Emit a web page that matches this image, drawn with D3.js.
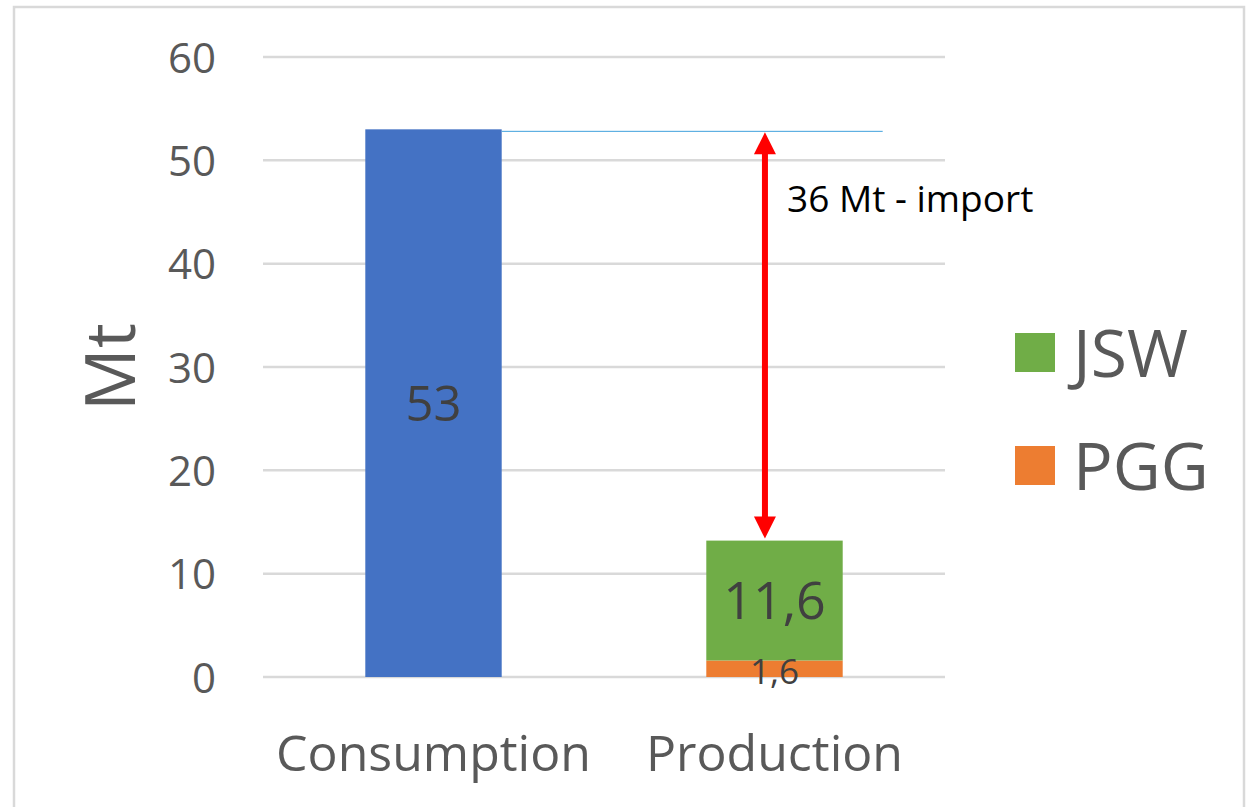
<!DOCTYPE html>
<html>
<head>
<meta charset="utf-8">
<script src="https://cdn.jsdelivr.net/npm/d3@7"></script>
<style>
  html, body { margin: 0; padding: 0; background: #fff; }
  svg { display: block; }
</style>
</head>
<body>
<svg id="chart" width="1252" height="807"></svg>
<script>
const categories = ["Consumption", "Production"];
const seriesNames = ["Consumption", "PGG", "JSW"];
const consumptionValues = [53, 0];
const pggValues = [0, 1.6];
const jswValues = [0, 11.6];
const yTicks = [0, 10, 20, 30, 40, 50, 60];
const legendNames = ["JSW", "PGG"];
const annotationText = "36 Mt - import";
const axisTitle = "Mt";

const colors = { Consumption: "#4472c4", PGG: "#ed7d31", JSW: "#70ad47" };
const textColor = "#595959";

const svg = d3.select("#chart");

// outer border
svg.append("rect").attr("x", 14).attr("y", 7).attr("width", 1230).attr("height", 820)
  .attr("fill", "none").attr("stroke", "#d9d9d9").attr("stroke-width", 2.5);

const x = d3.scaleBand().domain(categories).range([263, 945]).paddingInner(0.6).paddingOuter(0.3);
const y = d3.scaleLinear().domain([0, 60]).range([677, 57]);

// gridlines
svg.append("g").selectAll("line").data(yTicks).join("line")
  .attr("x1", 263).attr("x2", 945)
  .attr("y1", d => y(d)).attr("y2", d => y(d))
  .attr("stroke", "#d9d9d9").attr("stroke-width", 2.5);

// y axis labels
const yAxis = d3.axisLeft(y).tickValues(yTicks).tickSize(0).tickPadding(0).tickFormat(d3.format("d"));
const gy = svg.append("g").attr("transform", "translate(216,0)").call(yAxis);
gy.select(".domain").remove();
gy.selectAll("text").attr("font-family", "Open Sans").attr("font-size", 42).attr("fill", textColor).attr("dy", "0.36em");

// x axis labels
const xAxis = d3.axisBottom(x).tickSize(0).tickPadding(0);
const gx = svg.append("g").attr("transform", "translate(0,771)").call(xAxis);
gx.select(".domain").remove();
gx.selectAll("text").attr("font-family", "Open Sans").attr("font-size", 50).attr("fill", textColor).attr("dy", 0);

// stacked data
const rows = categories.map((c, i) => ({ cat: c, Consumption: consumptionValues[i], PGG: pggValues[i], JSW: jswValues[i] }));
const stack = d3.stack().keys(seriesNames)(rows);

svg.append("g").selectAll("g").data(stack).join("g")
  .attr("fill", s => colors[s.key])
  .selectAll("rect").data(s => s.filter(d => d[1] - d[0] > 0)).join("rect")
  .attr("x", d => x(d.data.cat))
  .attr("width", x.bandwidth())
  .attr("y", d => y(d[1]))
  .attr("height", d => y(d[0]) - y(d[1]));

const fmt = v => String(v).replace(".", ",");

// data labels
const labelG = svg.append("g").attr("font-family", "Open Sans").attr("fill", "#404040").attr("text-anchor", "middle");
labelG.append("text")
  .attr("x", x("Consumption") + x.bandwidth() / 2)
  .attr("y", y(consumptionValues[0] / 2)).attr("dy", "0.36em")
  .attr("font-size", 49).text(fmt(consumptionValues[0]));
labelG.append("text")
  .attr("x", x("Production") + x.bandwidth() / 2)
  .attr("y", y(pggValues[1] + jswValues[1] / 2)).attr("dy", "0.36em")
  .attr("font-size", 52).text(fmt(jswValues[1]));
labelG.append("text")
  .attr("x", x("Production") + x.bandwidth() / 2)
  .attr("y", y(pggValues[1] / 2) + 3).attr("dy", "0.36em")
  .attr("font-size", 35).text(fmt(pggValues[1]));

// blue reference line at consumption top
const topY = y(consumptionValues[0]) + 2;
svg.append("line")
  .attr("x1", x("Consumption") + x.bandwidth()).attr("x2", x("Production") + x.bandwidth() + 40)
  .attr("y1", topY).attr("y2", topY)
  .attr("stroke", "#3fa0dc").attr("stroke-width", 1);

// red double arrow
const ax = x("Production") + x.bandwidth() * 0.43;
const y1 = topY + 1;
const y2 = y(pggValues[1] + jswValues[1]) - 2;
const ah = 22, aw = 11;
svg.append("line").attr("x1", ax).attr("x2", ax).attr("y1", y1 + ah - 2).attr("y2", y2 - ah + 2)
  .attr("stroke", "#ff0000").attr("stroke-width", 6);
svg.append("path").attr("d", `M${ax},${y1} L${ax - aw},${y1 + ah} L${ax + aw},${y1 + ah} Z`).attr("fill", "#ff0000");
svg.append("path").attr("d", `M${ax},${y2} L${ax - aw},${y2 - ah} L${ax + aw},${y2 - ah} Z`).attr("fill", "#ff0000");

// annotation
svg.append("text").attr("x", 787).attr("y", 212)
  .attr("font-family", "Open Sans").attr("font-size", 37).attr("fill", "#000")
  .text(annotationText);

// axis title
svg.append("text")
  .attr("transform", `translate(135,367) rotate(-90)`)
  .attr("text-anchor", "middle")
  .attr("font-family", "Open Sans").attr("font-size", 70).attr("fill", textColor)
  .text(axisTitle);

// legend
const legY = [353, 466];
const lg = svg.append("g");
legendNames.forEach((n, i) => {
  lg.append("rect").attr("x", 1015).attr("y", legY[i] - 20).attr("width", 40).attr("height", 39).attr("fill", colors[n]);
  lg.append("text").attr("x", 1073).attr("y", legY[i]).attr("dy", "0.36em")
    .attr("font-family", "Open Sans").attr("font-size", 66).attr("fill", textColor).text(n);
});
</script>
</body>
</html>
